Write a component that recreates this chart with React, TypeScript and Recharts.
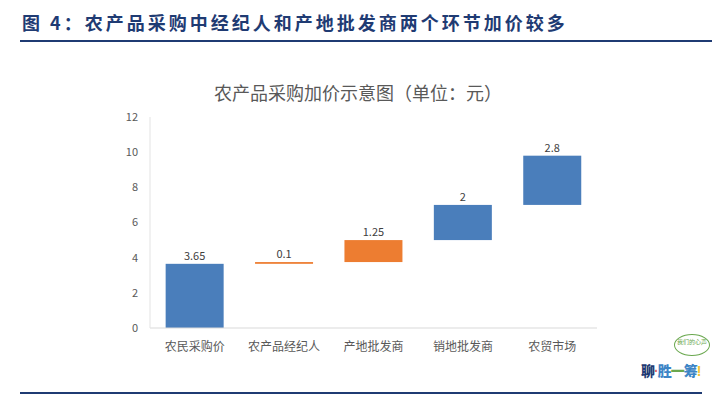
import { BarChart, Bar, XAxis, YAxis, Cell, LabelList } from "recharts";

const categories = ["农民采购价", "农产品经纪人", "产地批发商", "销地批发商", "农贸市场"];
const increments = [3.65, 0.1, 1.25, 2, 2.8];
const barColors = ["#4a7ebb", "#ed7d31", "#ed7d31", "#4a7ebb", "#4a7ebb"];
const yTicks = [0, 2, 4, 6, 8, 10, 12];

const FONT = '"Noto Sans CJK SC", "Noto Sans", sans-serif';

// waterfall: invisible base + visible increment
let running = 0;
const data = categories.map((name, i) => {
  const base = running;
  running += increments[i];
  return { name, base, value: increments[i], last: i === categories.length - 1 };
});

// bar + connector to the next bar, at the top of this bar
function StepBar(props: any) {
  const { x, y, width, height, fill, background, payload } = props;
  const band = background ? background.width : width;
  return (
    <g>
      <rect x={x} y={y} width={width} height={height} fill={fill} />
      {!payload.last && (
        <line x1={x + width} y1={y} x2={x + band} y2={y} stroke="#cfcfcf" strokeWidth={1} />
      )}
    </g>
  );
}

export default function App() {
  return (
    <div
      style={{
        position: "absolute",
        left: 0,
        top: 0,
        width: 720,
        height: 398,
        background: "#fff",
        fontFamily: FONT,
        overflow: "hidden",
      }}
    >
      <div
        style={{
          position: "absolute",
          left: 22,
          top: 9,
          fontSize: 18,
          fontWeight: 700,
          color: "#1f3b73",
          letterSpacing: 3,
          whiteSpace: "nowrap",
        }}
      >
        图 4：农产品采购中经纪人和产地批发商两个环节加价较多
      </div>
      <div style={{ position: "absolute", left: 20, top: 40, width: 692, height: 2, background: "#1f3b73" }} />
      <div
        style={{
          position: "absolute",
          left: 0,
          width: 720,
          top: 79,
          textAlign: "center",
          fontSize: 18,
          color: "#595959",
        }}
      >
        <span style={{ marginLeft: -4 }}>农产品采购加价示意图（单位：元）</span>
      </div>
      <div style={{ position: "absolute", left: 0, top: 0 }}>
        <BarChart
          width={720}
          height={398}
          data={data}
          margin={{ top: 117, right: 123, left: 110, bottom: 40 }}
          barCategoryGap="17.5%"
        >
          <XAxis
            dataKey="name"
            height={30}
            tick={{ fill: "#595959", fontSize: 12, fontFamily: FONT }}
            axisLine={{ stroke: "#d9d9d9" }}
            tickLine={false}
            tickMargin={8}
            interval={0}
          />
          <YAxis
            width={40}
            domain={[0, 12]}
            ticks={yTicks}
            tick={{ fill: "#595959", fontSize: 11, fontFamily: FONT }}
            axisLine={{ stroke: "#e3e3e3" }}
            tickLine={false}
            tickMargin={6}
          />
          <Bar dataKey="base" stackId="w" fill="transparent" isAnimationActive={false} />
          <Bar dataKey="value" stackId="w" shape={StepBar} isAnimationActive={false}>
            {data.map((d, i) => (
              <Cell key={d.name} fill={barColors[i]} />
            ))}
            <LabelList
              dataKey="value"
              position="top"
              offset={4}
              fill="#404040"
              fontSize={11}
              fontFamily={FONT}
            />
          </Bar>
        </BarChart>
      </div>
      {/* logo, roughly */}
      <div
        style={{
          position: "absolute",
          left: 674,
          top: 334,
          width: 36,
          height: 22,
          border: "1px solid #6aa84f",
          borderRadius: "50%",
          fontSize: 6,
          color: "#6aa84f",
          textAlign: "center",
          lineHeight: "9px",
          paddingTop: 2,
          boxSizing: "border-box",
        }}
      >
        我们的心声
      </div>
      <div
        style={{
          position: "absolute",
          left: 641,
          top: 361,
          fontSize: 14,
          fontWeight: 900,
          lineHeight: "18px",
          whiteSpace: "nowrap",
          letterSpacing: -1,
        }}
      >
        <span style={{ color: "#1f3b73" }}>聊</span>
        <span style={{ color: "#e06666", fontFamily: "sans-serif" }}>·</span>
        <span style={{ color: "#3d85c6" }}>胜</span>
        <span style={{ color: "#6aa84f" }}>一</span>
        <span style={{ color: "#3d85c6" }}>筹</span>
        <span style={{ color: "#f1c232", fontFamily: "sans-serif" }}>!</span>
      </div>
      <div style={{ position: "absolute", left: 20, top: 392, width: 682, height: 2, background: "#1f3b73" }} />
    </div>
  );
}
